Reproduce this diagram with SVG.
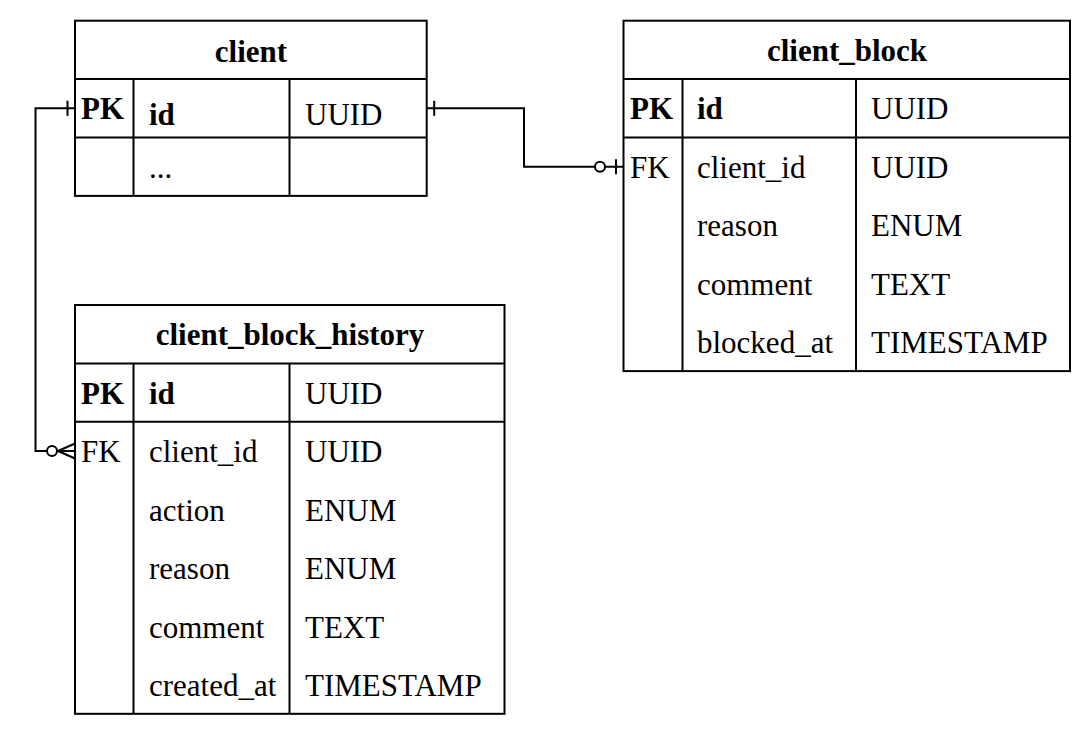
<svg xmlns="http://www.w3.org/2000/svg" width="1091" height="735" viewBox="0 0 1091 735">
  <style>
    .box { fill: #ffffff; stroke: #000000; stroke-width: 2; }
    .ln { fill: none; stroke: #000000; stroke-width: 2; }
    .t { font-family: "Liberation Serif", "Times New Roman", serif; font-size: 31px; fill: #000000; }
    .b { font-weight: bold; }
    .c { text-anchor: middle; }
    .conn { fill: none; stroke: #000000; stroke-width: 2; }
  </style>
  <defs>
    <marker id="one" viewBox="0 0 32 20" refX="30" refY="10" markerWidth="32" markerHeight="20" markerUnits="userSpaceOnUse" orient="auto-start-reverse" overflow="visible">
      <path d="M22.5 2.5 V17.5" fill="none" stroke="#000" stroke-width="2"/>
    </marker>
    <marker id="zeroOne" viewBox="0 0 32 20" refX="30" refY="10" markerWidth="32" markerHeight="20" markerUnits="userSpaceOnUse" orient="auto-start-reverse" overflow="visible">
      <path d="M22.5 2.5 V17.5" fill="none" stroke="#000" stroke-width="2"/>
      <circle cx="6.5" cy="10" r="5" fill="#fff" stroke="#000" stroke-width="2"/>
    </marker>
    <marker id="zeroMany" viewBox="0 0 32 20" refX="30" refY="10" markerWidth="32" markerHeight="20" markerUnits="userSpaceOnUse" orient="auto-start-reverse" overflow="visible">
      <path d="M13 10 L30 2.5 M13 10 L30 17.5" fill="none" stroke="#000" stroke-width="2"/>
      <circle cx="7" cy="10" r="5" fill="#fff" stroke="#000" stroke-width="2"/>
    </marker>
  </defs>

  <g id="connectors">
    <path class="conn" d="M75 108.3 H35.5 V451 H75" marker-start="url(#one)" marker-end="url(#zeroMany)"/>
    <path class="conn" d="M426.7 108.3 H524 V166.7 H623.5" marker-start="url(#one)" marker-end="url(#zeroOne)"/>
  </g>

  <g id="client">
    <rect class="box" x="75" y="20.7" width="351.7" height="175.2"/>
    <path class="ln" d="M75 79.1 H426.7 M75 137.5 H426.7 M133.5 79.1 V195.9 M289.5 79.1 V195.9"/>
    <text class="t b c" x="251" y="61.5">client</text>
    <text class="t b" x="81" y="119">PK</text>
    <text class="t b" x="149" y="124.5">id</text>
    <text class="t" x="305" y="124.5">UUID</text>
    <text class="t" x="149" y="177.5">...</text>
  </g>

  <g id="client_block">
    <rect class="box" x="623.5" y="20.7" width="446.5" height="350.4"/>
    <path class="ln" d="M623.5 79.1 H1070 M623.5 137.5 H1070 M682.5 79.1 V371.1 M856 79.1 V371.1"/>
    <text class="t b c" x="847" y="61">client_block</text>
    <text class="t b" x="630" y="118.5">PK</text>
    <text class="t b" x="697" y="118.5">id</text>
    <text class="t" x="871" y="118.5">UUID</text>
    <text class="t" x="630" y="177.5">FK</text>
    <text class="t" x="697" y="177.5">client_id</text>
    <text class="t" x="871" y="177.5">UUID</text>
    <text class="t" x="697" y="236">reason</text>
    <text class="t" x="871" y="236">ENUM</text>
    <text class="t" x="697" y="294.5">comment</text>
    <text class="t" x="871" y="294.5">TEXT</text>
    <text class="t" x="697" y="353">blocked_at</text>
    <text class="t" x="871" y="353">TIMESTAMP</text>
  </g>

  <g id="client_block_history">
    <rect class="box" x="75" y="305" width="429.5" height="408.8"/>
    <path class="ln" d="M75 363.4 H504.5 M75 421.8 H504.5 M133.5 363.4 V713.8 M289.5 363.4 V713.8"/>
    <text class="t b c" x="290" y="345">client_block_history</text>
    <text class="t b" x="81" y="403.5">PK</text>
    <text class="t b" x="149" y="403.5">id</text>
    <text class="t" x="305" y="403.5">UUID</text>
    <text class="t" x="81" y="462">FK</text>
    <text class="t" x="149" y="462">client_id</text>
    <text class="t" x="305" y="462">UUID</text>
    <text class="t" x="149" y="520.5">action</text>
    <text class="t" x="305" y="520.5">ENUM</text>
    <text class="t" x="149" y="579">reason</text>
    <text class="t" x="305" y="579">ENUM</text>
    <text class="t" x="149" y="637.5">comment</text>
    <text class="t" x="305" y="637.5">TEXT</text>
    <text class="t" x="149" y="696">created_at</text>
    <text class="t" x="305" y="696">TIMESTAMP</text>
  </g>
</svg>
